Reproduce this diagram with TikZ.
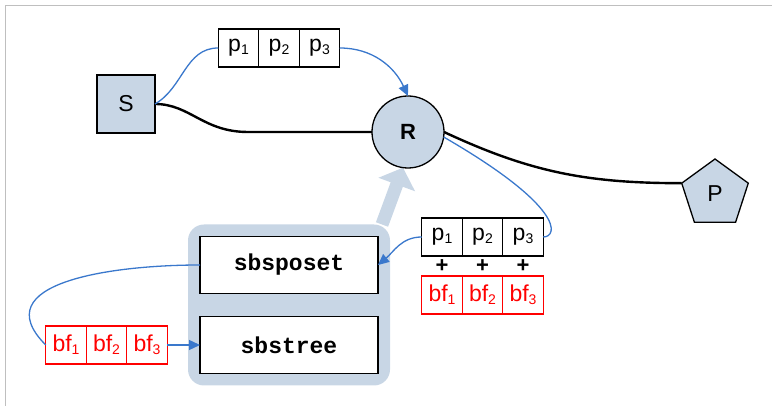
\documentclass[tikz,border=0pt]{standalone}
\usepackage{fontspec}
\setmainfont{Liberation Sans}
\setmonofont{Liberation Mono}
\usetikzlibrary{arrows.meta,positioning,shapes.geometric,fit,backgrounds}
\definecolor{nodefill}{HTML}{C8D6E5}
\definecolor{linkblue}{HTML}{3A78CC}
\newcommand\lowidx[1]{\raisebox{-3pt}{\fontsize{14}{14}\selectfont #1}}

\begin{document}
\begin{tikzpicture}[x=1pt, y=1pt,
  every node/.style={outer sep=0pt},
  cell/.style={draw, line width=1.1pt, minimum width=40.5pt, minimum height=38pt, inner sep=0pt, font=\fontsize{23}{23}\selectfont},
  redcell/.style={cell, draw=red, text=red},
  plus/.style={inner sep=0pt, minimum height=20pt, font=\fontsize{22}{22}\selectfont\bfseries},
  call/.style={draw, line width=1.3pt, fill=white, minimum width=178pt, minimum height=57pt, font=\fontsize{23}{23}\selectfont\ttfamily\bfseries},
  actor/.style={draw, line width=1.3pt, fill=nodefill, font=\fontsize{23}{23}\selectfont},
  link/.style={linkblue, line width=1.3pt},
  linkarr/.style={link, -{Triangle[width=10pt,length=11pt]}},
  wire/.style={line width=2.4pt}
]
\useasboundingbox (0,0) rectangle (772,406);
\draw[gray!50, line width=1pt] (5,0) -- (5,400) -- (772,400);

\node[actor, minimum size=58pt] (S) at (126,302) {S};
\node[actor, circle, minimum size=72pt, font=\fontsize{22}{22}\selectfont\bfseries] (R) at (408,274) {R};
\node[actor, regular polygon, regular polygon sides=5, minimum size=70pt, inner sep=0pt] (P) at (715,212) {P};

\node[cell] (p1) at (238.5,358) {p\lowidx{1}};
\node[cell, right=0pt of p1] (p2) {p\lowidx{2}};
\node[cell, right=0pt of p2] (p3) {p\lowidx{3}};

\node[cell] (q1) at (442,169) {p\lowidx{1}};
\node[cell, right=0pt of q1] (q2) {p\lowidx{2}};
\node[cell, right=0pt of q2] (q3) {p\lowidx{3}};
\node[plus, below=0pt of q1] (pl1) {+};
\node[plus, below=0pt of q2] (pl2) {+};
\node[plus, below=0pt of q3] (pl3) {+};
\node[redcell, below=0pt of pl1] (b1) {bf\lowidx{1}};
\node[redcell, below=0pt of pl2] (b2) {bf\lowidx{2}};
\node[redcell, below=0pt of pl3] (b3) {bf\lowidx{3}};

\node[call] (poset) at (289,141) {sbsposet};
\node[call] (tree) at (289,61) {sbstree};

\node[redcell] (c1) at (66,61) {bf\lowidx{1}};
\node[redcell, right=0pt of c1] (c2) {bf\lowidx{2}};
\node[redcell, right=0pt of c2] (c3) {bf\lowidx{3}};

\begin{scope}[on background layer]
\node[fit=(poset)(tree), inner sep=12pt, fill=nodefill, rounded corners=16pt] (grp) {};
\draw[nodefill, line width=13pt, -{Triangle[width=38pt,length=18pt]}] ([xshift=-8pt]grp.north east) -- (R.-98);
\end{scope}

\draw[wire] (S.east) .. controls +(35,0) and +(-45,0) .. (248,274) -- (R.west);
\draw[wire] (R.east) to[out=-25, in=180] (P.corner 2);

\draw[link] (S.east) to[out=30, in=180] (p1.west);
\draw[linkarr] (p3.east) to[out=0, in=115] (R.north);
\draw[link] (R.-8) .. controls +(-30:140) and +(15,0) .. (q3.east);
\draw[linkarr] (q1.west) to[out=180, in=40] (poset.east);
\draw[link] (poset.west) to[out=180, in=135, looseness=1.3] (c1.west);
\draw[linkarr] (c3.east) -- (tree.west);
\end{tikzpicture}
\end{document}
